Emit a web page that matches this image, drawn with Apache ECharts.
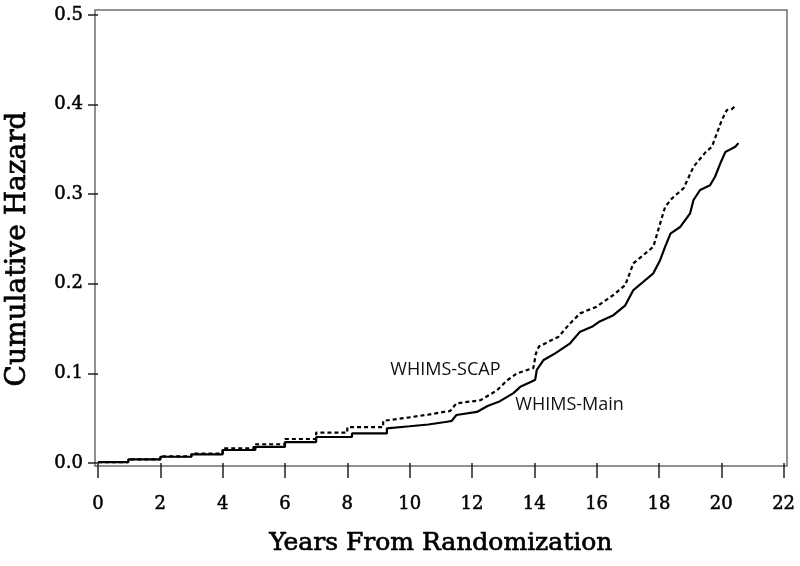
<!DOCTYPE html>
<html>
<head>
<meta charset="utf-8">
<script src="https://cdn.jsdelivr.net/npm/echarts@6/dist/echarts.min.js"></script>
<style>html,body{margin:0;padding:0;background:#fff}#c{width:800px;height:566px}</style>
</head>
<body>
<div id="c"></div>
<script>
// Observed points: [years, cumulative hazard]
var mainTimes  = [0, 0.97, 2.0, 3.0, 4.0, 5.05, 6.0, 7.0, 8.15, 9.27, 10.0, 10.6, 11.2, 11.35, 11.5, 12.16, 12.5, 12.9, 13.33, 13.55, 13.92, 14.03, 14.08, 14.3, 14.67, 15.15, 15.47, 15.85, 16.1, 16.54, 16.92, 17.18, 17.5, 17.82, 18.04, 18.2, 18.37, 18.69, 19.0, 19.11, 19.32, 19.64, 19.8, 19.97, 20.13, 20.29, 20.45, 20.55];
var mainValues = [0.001, 0.004, 0.007, 0.0097, 0.0145, 0.018, 0.0234, 0.029, 0.033, 0.0387, 0.041, 0.043, 0.046, 0.047, 0.0536, 0.057, 0.0636, 0.069, 0.078, 0.085, 0.091, 0.093, 0.104, 0.115, 0.1224, 0.1336, 0.1466, 0.152, 0.158, 0.165, 0.176, 0.193, 0.2023, 0.2117, 0.2266, 0.2414, 0.256, 0.2637, 0.2787, 0.2935, 0.3047, 0.310, 0.3195, 0.3345, 0.347, 0.350, 0.353, 0.357];
var scapTimes  = [0, 0.97, 2.0, 3.0, 4.0, 5.0, 6.0, 7.0, 8.0, 9.15, 10.0, 10.6, 11.1, 11.3, 11.5, 12.27, 12.8, 13.12, 13.44, 13.97, 14.05, 14.15, 14.78, 15.1, 15.47, 16.0, 16.54, 16.92, 17.18, 17.5, 17.82, 18.04, 18.2, 18.42, 18.79, 19.11, 19.5, 19.7, 19.86, 20.02, 20.18, 20.34, 20.48];
var scapValues = [0.001, 0.004, 0.0075, 0.0105, 0.0164, 0.0209, 0.0268, 0.034, 0.040, 0.047, 0.051, 0.054, 0.057, 0.058, 0.0666, 0.070, 0.081, 0.092, 0.100, 0.106, 0.122, 0.13, 0.141, 0.154, 0.167, 0.1745, 0.1875, 0.1987, 0.2229, 0.232, 0.2414, 0.2675, 0.286, 0.2954, 0.3066, 0.3307, 0.347, 0.353, 0.368, 0.383, 0.394, 0.395, 0.3996];
var xTicks = [0, 2, 4, 6, 8, 10, 12, 14, 16, 18, 20, 22];
var yTicks = [0.0, 0.1, 0.2, 0.3, 0.4, 0.5];
var seriesNames = ['WHIMS-Main', 'WHIMS-SCAP'];
var labelMain = [13.39, 0.0647];
var labelScap = [9.38, 0.1038];
var stepUntil = 9.5; // years: visible discrete steps before this time

// Build drawing path: explicit stair corners for the early (sparse) events,
// direct connection for the dense later part where steps are tiny.
function path(t, v) {
  var out = [];
  for (var i = 0; i < t.length; i++) {
    if (i > 0 && t[i] <= stepUntil) out.push([t[i], v[i - 1]]);
    out.push([t[i], v[i]]);
  }
  return out;
}

var serif = 'DejaVu Serif';
var tickFont = {color: '#000', fontFamily: serif, fontSize: 18, textBorderColor: '#000', textBorderWidth: 0.5};
var chart = echarts.init(document.getElementById('c'), null, {renderer: 'canvas'});
chart.setOption({
  animation: false,
  backgroundColor: '#fff',
  grid: [
    {left: 98, top: 15, width: 685.6, height: 448, show: false},
    {left: 95, top: 10, width: 692, height: 456, show: true, borderColor: '#6e6e6e', borderWidth: 1.5, backgroundColor: 'transparent', z: 0}
  ],
  xAxis: [
    {type: 'value', gridIndex: 0, min: xTicks[0], max: xTicks[xTicks.length - 1], interval: 2, offset: 5,
     splitLine: {show: false}, axisLine: {show: false},
     axisTick: {show: true, length: 15, lineStyle: {color: '#222', width: 1.5}},
     axisLabel: Object.assign({margin: 27}, tickFont),
     name: 'Years From Randomization', nameLocation: 'middle', nameGap: 63,
     nameTextStyle: {fontFamily: serif, fontSize: 25, color: '#000', textBorderColor: '#000', textBorderWidth: 0.7}},
    {type: 'value', gridIndex: 1, show: false, min: 0, max: 1}
  ],
  yAxis: [
    {type: 'value', gridIndex: 0, min: yTicks[0], max: yTicks[yTicks.length - 1], interval: 0.1, offset: 3,
     splitLine: {show: false}, axisLine: {show: false},
     axisTick: {show: true, length: 10, lineStyle: {color: '#222', width: 1.5}},
     axisLabel: Object.assign({margin: 12, formatter: function (v) { return v.toFixed(1); }}, tickFont)},
    {type: 'value', gridIndex: 1, show: false, min: 0, max: 1}
  ],
  graphic: [
    {type: 'text', x: 18, y: 249, rotation: Math.PI / 2,
     style: {text: 'Cumulative Hazard', font: '28px "DejaVu Serif"', fill: '#000', stroke: '#000', lineWidth: 0.7,
             align: 'center', verticalAlign: 'middle'}}
  ],
  series: [
    {name: seriesNames[0], type: 'line', xAxisIndex: 0, yAxisIndex: 0, showSymbol: false,
     data: path(mainTimes, mainValues), lineStyle: {color: '#000', width: 2.2, type: 'solid'},
     markPoint: {symbol: 'circle', symbolSize: 0, silent: true,
       data: [{coord: labelMain, label: {show: true, position: 'right', distance: 0, formatter: seriesNames[0],
              fontFamily: 'Open Sans', fontSize: 18, color: '#111'}}]}},
    {name: seriesNames[1], type: 'line', xAxisIndex: 0, yAxisIndex: 0, showSymbol: false,
     data: path(scapTimes, scapValues), lineStyle: {color: '#000', width: 2.2, type: [4, 3]},
     markPoint: {symbol: 'circle', symbolSize: 0, silent: true,
       data: [{coord: labelScap, label: {show: true, position: 'right', distance: 0, formatter: seriesNames[1],
              fontFamily: 'Open Sans', fontSize: 18, color: '#111'}}]}}
  ]
});
</script>
</body>
</html>
